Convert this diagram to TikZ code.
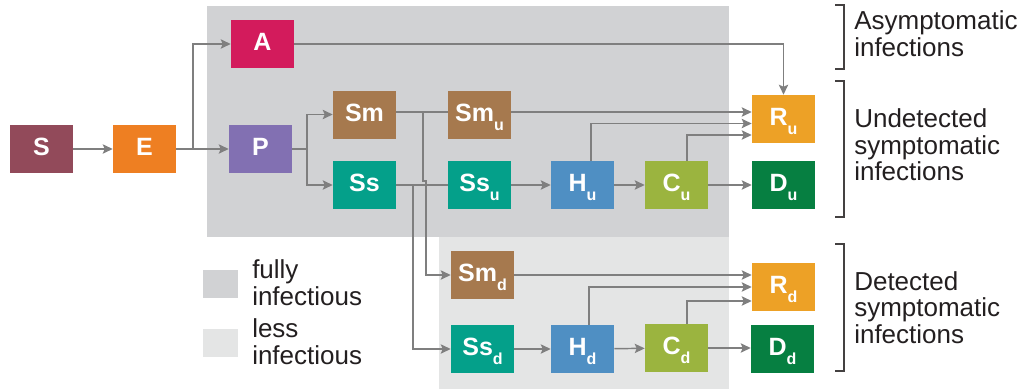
\documentclass[tikz,border=0pt]{standalone}
\usepackage{fontspec}
\setmainfont{Liberation Sans}
\usetikzlibrary{arrows.meta}

\definecolor{bgdark}{HTML}{D1D2D4}
\definecolor{bglight}{HTML}{E4E5E5}
\definecolor{linegray}{HTML}{7F7F7F}
\definecolor{inkdark}{HTML}{231F20}
\definecolor{colS}{HTML}{924A5A}
\definecolor{colE}{HTML}{EE7F22}
\definecolor{colA}{HTML}{D31B5C}
\definecolor{colP}{HTML}{8270B2}
\definecolor{colSm}{HTML}{A6794E}
\definecolor{colSs}{HTML}{04A08A}
\definecolor{colH}{HTML}{4F8FC3}
\definecolor{colC}{HTML}{9BB43F}
\definecolor{colR}{HTML}{EDA126}
\definecolor{colD}{HTML}{067F41}

% lowered, smaller subscript used in the compartment labels
\newcommand\lowsub[1]{\raisebox{-7pt}{\fontsize{12}{12}\selectfont #1}}

\begin{document}
\begin{tikzpicture}[x=0.75pt,y=-0.75pt,
  box/.style={minimum width=47.25pt,minimum height=36pt,inner sep=0pt,
    text=white,font=\fontsize{18.75}{18.75}\selectfont\bfseries,
    text height=13.5pt,text depth=3.75pt},
  conn/.style={draw=linegray,line width=1.1pt},
  arr/.style={conn,-{Stealth[length=7.5pt,width=7pt,inset=1.5pt]}},
  label/.style={text=inkdark,align=left,inner sep=0pt,
    font=\fontsize{19.5}{20}\selectfont},
  bracket/.style={draw=inkdark!85,line width=0.8pt},
]
\useasboundingbox (0,0) rectangle (1022,389);

% infectiousness regions
\fill[bgdark] (207,6) rectangle (729,237);
\fill[bglight] (439,237) rectangle (729,389);

% compartments
\node[box,fill=colS]  (S)   at (41.5,149)  {S};
\node[box,fill=colE]  (E)   at (144.5,149) {E};
\node[box,fill=colA]  (A)   at (262.5,44)  {A};
\node[box,fill=colP]  (P)   at (260.5,149) {P};
\node[box,fill=colSm] (Sm)  at (364.5,114.5) {Sm};
\node[box,fill=colSs] (Ss)  at (364.5,185) {Ss};
\node[box,fill=colSm] (Smu) at (479.5,114.5) {Sm\lowsub{u}};
\node[box,fill=colSs] (Ssu) at (479.5,185) {Ss\lowsub{u}};
\node[box,fill=colH]  (Hu)  at (582.5,185) {H\lowsub{u}};
\node[box,fill=colC]  (Cu)  at (676.5,185) {C\lowsub{u}};
\node[box,fill=colR]  (Ru)  at (783.5,119) {R\lowsub{u}};
\node[box,fill=colD]  (Du)  at (783.5,185) {D\lowsub{u}};
\node[box,fill=colSm] (Smd) at (482.5,275) {Sm\lowsub{d}};
\node[box,fill=colSs] (Ssd) at (482.5,349) {Ss\lowsub{d}};
\node[box,fill=colH]  (Hd)  at (582.5,349) {H\lowsub{d}};
\node[box,fill=colC]  (Cd)  at (676.5,348) {C\lowsub{d}};
\node[box,fill=colR]  (Rd)  at (783.5,287) {R\lowsub{d}};
\node[box,fill=colD]  (Dd)  at (782.5,349) {D\lowsub{d}};

% branch points
\coordinate (jE) at (193,149);
\coordinate (jP) at (307,149);
\coordinate (m1) at (423,112.5);
\coordinate (m2) at (423,181);
\coordinate (m3) at (426,181);
\coordinate (s1) at (413,185);

% transitions
\draw[arr] (S) -- (E);
\draw[arr] (E) -- (P);
\draw[arr] (jE) |- (A);
\draw[conn] (P) -- (jP);
\draw[arr] (jP) |- (Sm);
\draw[arr] (jP) |- (Ss);
\draw[conn] ([yshift=1.875pt]Sm.east) -- ([yshift=1.875pt]Smu.west);
\draw[conn] (Ss) -- (Ssu);
\draw[arr] (m1) -- (m2) -- (m3) |- (Smd);
\draw[arr] (s1) |- (Ssd);
\draw[arr] (A) -| (Ru);
\draw[arr] ([yshift=1.875pt]Smu.east) -- ([yshift=1.875pt]Smu.east -| Ru.west);
\draw[arr] ([xshift=6.375pt]Hu.north) |- ([yshift=-3.375pt]Ru.west);
\draw[arr] ([xshift=7.875pt]Cu.north) |- ([yshift=-12pt]Ru.west);
\draw[arr] (Ssu) -- (Hu);
\draw[arr] (Hu) -- (Cu);
\draw[arr] (Cu) -- (Du);
\draw[arr] (Smd) -- (Smd -| Rd.west);
\draw[arr] ([xshift=4.875pt]Hd.north) |- (Rd.west);
\draw[arr] ([xshift=7.875pt]Cd.north) |- ([yshift=-10.5pt]Rd.west);
\draw[arr] (Ssd) -- (Hd);
\draw[arr] (Hd) -- (Cd);
\draw[arr] (Cd) -- (Cd -| Dd.west);

% legend
\fill[bgdark]  (203,270) rectangle (238,298);
\fill[bglight] (203,329) rectangle (238,357);
\node[label,anchor=west] (lfull) at (252,283) {fully\\infectious};
\node[label,anchor=west] (lless) at (252,341.5) {less\\infectious};

% group brackets
\draw[bracket] (835,5) -- (844,5) -- (844,69) -- (835,69);
\draw[bracket] (835,81) -- (844,81) -- (844,217) -- (835,217);
\draw[bracket] (835,244) -- (844,244) -- (844,371) -- (835,371);
\node[label,anchor=west] (gA) at (854,34) {Asymptomatic\\infections};
\node[label,anchor=west] (gU) at (854,145) {Undetected\\symptomatic\\infections};
\node[label,anchor=west] (gD) at (854,307.5) {Detected\\symptomatic\\infections};
\end{tikzpicture}
\end{document}
